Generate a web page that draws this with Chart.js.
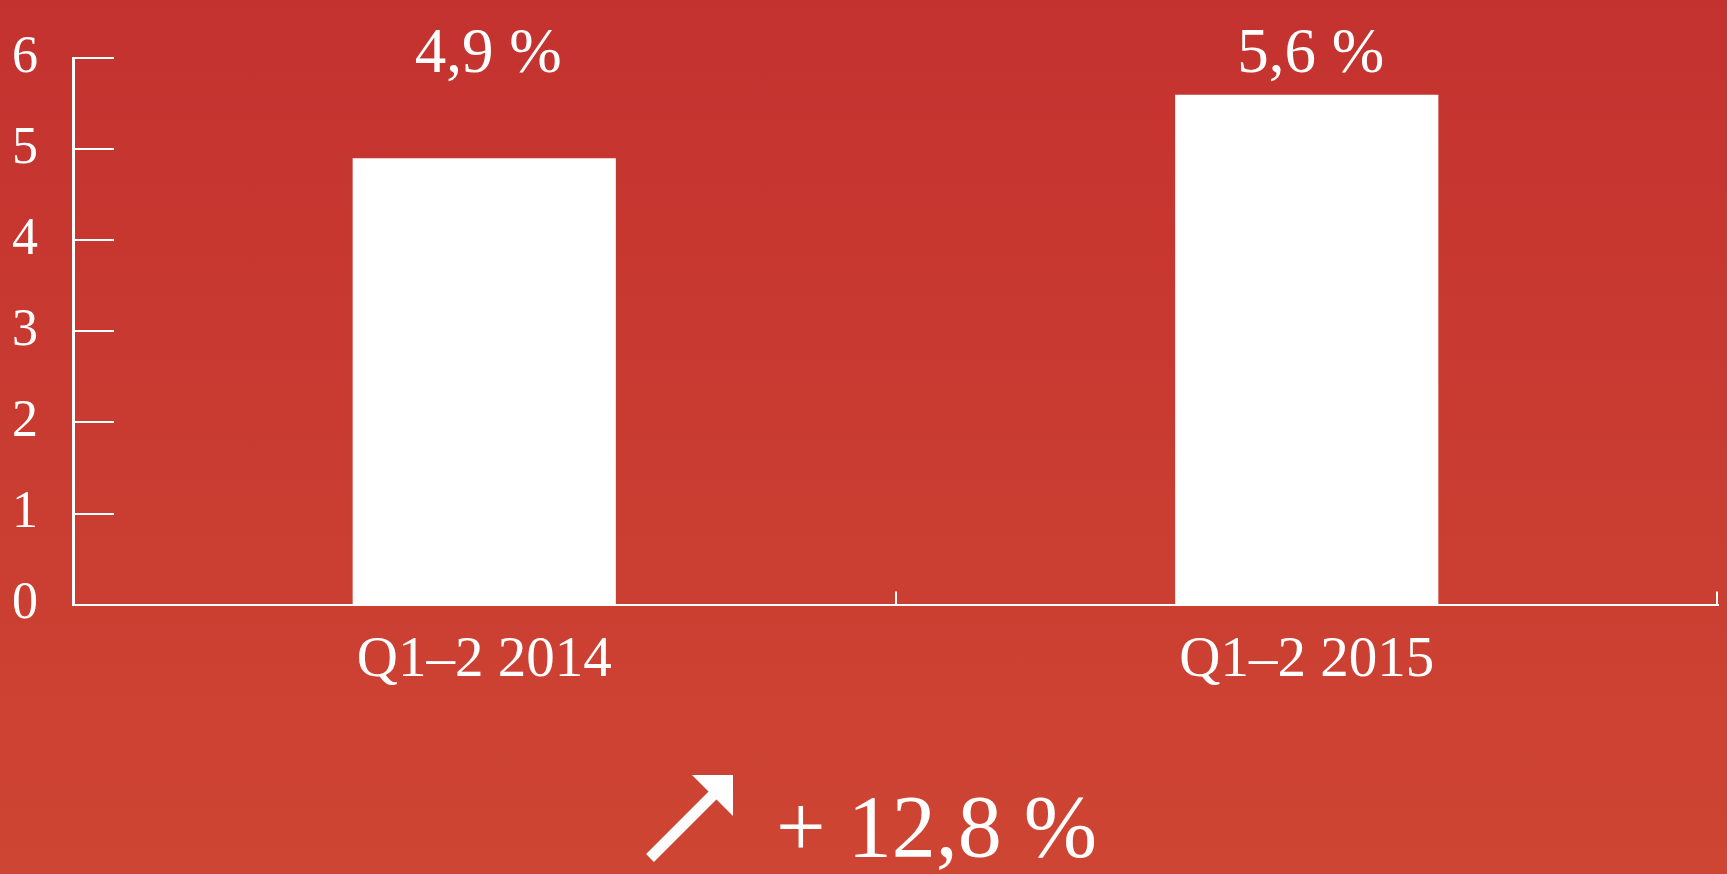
<!DOCTYPE html>
<html>
<head>
<meta charset="utf-8">
<script src="https://cdn.jsdelivr.net/npm/chart.js@4.4.1/dist/chart.umd.min.js"></script>
<style>
  html, body { margin: 0; padding: 0; }
  body {
    width: 1727px; height: 874px; overflow: hidden; position: relative;
    background: linear-gradient(to bottom, #c4322f, #ce4533);
    font-family: "Liberation Serif", serif;
  }
  #wrap { position: absolute; left: 0; top: 0; width: 1727px; height: 874px; }
  #arrow { position: absolute; left: 0; top: 0; }
  #growth {
    position: absolute; left: 776px; top: 783px;
    font-size: 88px; line-height: 88px; color: #fff; white-space: pre;
  }
</style>
</head>
<body>
<div id="wrap"><canvas id="myGrowthChart"></canvas></div>
<svg id="arrow" width="1727" height="874">
  <line x1="650" y1="858" x2="716" y2="792" stroke="#fff" stroke-width="11"/>
  <polygon points="692,775 733,775 733,816" fill="#fff"/>
</svg>
<div id="growth"></div>
<script>
const categories = ["Q1–2 2014", "Q1–2 2015"];
const growthValues = [4.9, 5.6];
const yMin = 0;
const yMax = 6;
const yStep = 1;
const totalChange = "+ 12,8 %";

document.getElementById("growth").textContent = totalChange;

function fmtPct(v) {
  return v.toFixed(1).replace(".", ",") + " %";
}

// short tick marks drawn inside the plot, plus the value labels on top
const innerTicks = {
  id: "innerTicks",
  afterDraw(chart) {
    const ctx = chart.ctx;
    const area = chart.chartArea;
    const xs = chart.scales.x;
    const ys = chart.scales.y;
    ctx.save();
    ctx.strokeStyle = "#fff";
    ctx.lineWidth = 2;
    ctx.beginPath();
    ys.ticks.forEach((t) => {
      const py = Math.round(ys.getPixelForValue(t.value));
      ctx.moveTo(area.left, py);
      ctx.lineTo(area.left + 41, py);
    });
    for (let i = 0; i < categories.length; i++) {
      let px = area.right - 1;
      if (i < categories.length - 1) {
        px = Math.round((xs.getPixelForValue(i) + xs.getPixelForValue(i + 1)) / 2);
      }
      ctx.moveTo(px, area.bottom);
      ctx.lineTo(px, area.bottom - 13);
    }
    ctx.stroke();

    ctx.fillStyle = "#fff";
    ctx.font = '63px "Liberation Serif"';
    ctx.textAlign = "center";
    ctx.textBaseline = "alphabetic";
    chart.getDatasetMeta(0).data.forEach((bar, i) => {
      ctx.fillText(fmtPct(growthValues[i]), bar.x + 4, 72);
    });
    ctx.restore();
  },
};

let myChart = document.getElementById("myGrowthChart").getContext("2d");

new Chart(myChart, {
  type: "bar",
  data: {
    labels: categories,
    datasets: [
      {
        label: "Croissance",
        data: growthValues,
        backgroundColor: "#ffffff",
        borderWidth: 0,
        categoryPercentage: 1,
        barPercentage: 0.32,
      },
    ],
  },
  options: {
    responsive: true,
    maintainAspectRatio: false,
    animation: false,
    layout: { padding: { top: 58, right: 9, bottom: 165, left: 0 } },
    plugins: {
      legend: { display: false },
      tooltip: { enabled: false },
    },
    scales: {
      x: {
        grid: { display: false },
        border: { color: "#fff", width: 2 },
        ticks: {
          color: "#fff",
          padding: 14,
          font: { family: "Liberation Serif", size: 57 },
        },
      },
      y: {
        min: yMin,
        max: yMax,
        grid: { display: false },
        border: { color: "#fff", width: 3 },
        afterFit: (scale) => {
          scale.width = 73;
        },
        ticks: {
          stepSize: yStep,
          color: "#fff",
          padding: 27,
          font: { family: "Liberation Serif", size: 52 },
        },
      },
    },
  },
  plugins: [innerTicks],
});
</script>
</body>
</html>
